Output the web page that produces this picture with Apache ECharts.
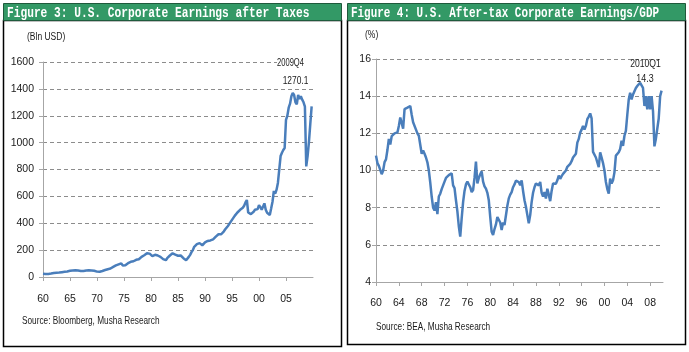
<!DOCTYPE html>
<html><head><meta charset="utf-8">
<script src="https://cdn.jsdelivr.net/npm/echarts@6/dist/echarts.min.js"></script>
<style>html,body{margin:0;padding:0;background:#fff}#c{width:689px;height:352px}</style>
</head><body><div id="c"></div>
<script>
// ---- data (quarterly, starting 1960Q1) ----
const startYear = 1960;
// Figure 3: U.S. corporate earnings after taxes, Bln USD, 1960Q1..2009Q4
const earnings = [
  25, 24, 23, 23,   23, 24, 26, 28,   30, 31, 32, 33,   33, 34, 36, 37,   39, 40, 41, 42,
  46, 48, 49, 50,   51, 50, 48, 46,   44, 44, 45, 47,   48, 49, 50, 50,   49, 48, 46, 43,
  40, 38, 39, 36,   45, 50, 52, 55,   58, 60, 63, 67,   75, 80, 86, 90,   94, 98, 102, 86,
  74, 88, 100, 103, 108, 113, 115, 117, 122, 128, 133, 132, 135, 150, 155, 162, 172, 177, 180, 174,
  170, 155, 160, 165, 164, 160, 157, 150, 138, 133, 128, 125, 140, 150, 160, 168, 176, 172, 166, 162,
  158, 156, 160, 154, 140, 130, 125, 128, 150, 165, 185, 200, 225, 238, 245, 250, 252, 244, 236, 232,
  258, 262, 268, 270, 272, 276, 280, 285, 300, 305, 318, 330, 318, 325, 340, 355, 365, 380, 395, 405,
  425, 440, 455, 465, 480, 492, 500, 505, 515, 530, 555, 573, 480, 472, 468, 462, 485, 500, 510, 505,
  535, 520, 500, 505, 548, 500, 478, 468, 462, 510, 560, 640, 620, 650, 700, 710, 900, 925, 945, 960,
  1170, 1200, 1260, 1290, 1345, 1370, 1355, 1300, 1285, 1355, 1325, 1345, 1320, 1300, 1268, 823, 900, 1005, 1140, 1270.1
];
// Figure 4: U.S. after-tax corporate earnings / GDP, %, 1960Q1..2010Q1
const earningsGdp = [
  10.8, 10.4, 10.25, 10.2,   9.8, 10.0, 10.45, 10.6,   11.1, 11.7, 11.4, 11.85,   11.95, 12.0, 12.05, 12.05,
  12.4, 12.85, 12.55, 12.25,   13.3, 13.35, 13.38, 13.45,   13.47, 13.0, 12.6, 12.5,   12.2, 12.0, 11.87, 11.78,
  10.9, 11.07, 10.9, 10.7,   10.44, 10.0, 9.35, 8.6,   8.0, 7.85, 8.3, 7.65,   8.6, 8.75, 9.0, 9.2,
  9.4, 9.6, 9.7, 9.75,   9.8, 9.85, 9.2, 9.05,   8.4, 7.8, 7.0, 6.44,   7.42, 8.3, 8.9, 9.25,
  9.4, 9.47, 9.1, 8.84,   8.95, 9.6, 10.48, 9.3,   9.6, 9.8, 9.95, 9.4,   9.15, 9.02, 8.8, 8.4,
  7.5, 6.7, 6.53, 6.85,   7.1, 7.5, 7.6, 7.2,   6.8, 7.2, 7.07, 7.16,   8.1, 8.5, 8.7, 8.84,
  9.1, 9.25, 9.45, 9.4,   9.38, 9.2, 9.47, 8.9,   8.4, 8.05, 7.6, 7.16,   7.6, 8.3, 8.8, 9.1,
  9.3, 9.35, 9.2, 9.38,   8.8, 8.6, 8.84, 8.49,   9.02, 8.7, 8.35, 8.9,   9.3, 9.38, 9.29, 9.47,
  9.73, 9.55, 9.7, 9.82,   9.9, 10.0, 10.2, 10.3,   10.36, 10.5, 10.7, 10.75,   10.9, 11.5, 11.7, 12.04,
  12.2, 12.4, 12.2, 12.4,   12.76, 12.9, 13.07, 12.8,   11.0, 10.9, 10.7, 10.75,   10.18, 10.98, 10.7, 10.4,
  10.0, 9.38, 9.0, 8.76,   9.56, 9.3, 9.47, 9.9,   10.8, 10.9, 10.98, 11.16,   11.6, 11.33, 11.87, 12.13,
  13.0, 13.82, 14.18, 13.82,   14.09, 14.27, 14.44, 14.55,   14.62, 14.71, 14.75, 14.44,   13.47, 14.0, 13.29, 14.0,
  13.29, 14.0, 13.2, 11.3,   11.7, 11.78, 12.8, 14.0,   14.3
];
const xTicks1 = [1960, 1965, 1970, 1975, 1980, 1985, 1990, 1995, 2000, 2005];
const xTicks2 = [1960, 1964, 1968, 1972, 1976, 1980, 1984, 1988, 1992, 1996, 2000, 2004, 2008];
const titles = ['Figure 3: U.S. Corporate Earnings after Taxes', 'Figure 4: U.S. After-tax Corporate Earnings/GDP'];
const units = ['(Bln USD)', '(%)'];
const sources = ['Source: Bloomberg, Musha Research', 'Source: BEA, Musha Research'];
const notes1 = ['2009Q4', '1270.1'];
const notes2 = ['2010Q1', '14.3'];

const toPairs = arr => arr.map((v, i) => [startYear + i / 4, v]);
const SANS = '"Liberation Sans", Arial, sans-serif';
const AX = '#a6a6a6';
const GRIDC = '#8c8c8c';
const fmtYear = v => String(Math.round(v)).slice(2);

function xAxisCfg(gi, min, max, ticks, margin) {
  return {
    type: 'value', gridIndex: gi, min: min, max: max,
    axisLine: { show: true, onZero: false, lineStyle: { color: AX, width: 1 } },
    axisTick: { show: true, length: 4, customValues: ticks, lineStyle: { color: AX } },
    axisLabel: { customValues: ticks, formatter: fmtYear, fontSize: 10.5, fontFamily: SANS, color: '#1a1a1a', margin: margin },
    splitLine: { show: false }
  };
}
function yAxisCfg(gi, min, max, interval, margin) {
  return {
    type: 'value', gridIndex: gi, min: min, max: max, interval: interval,
    axisLine: { show: true, lineStyle: { color: AX, width: 1 } },
    axisTick: { show: true, length: 4, lineStyle: { color: AX } },
    axisLabel: { fontSize: 10.5, fontFamily: SANS, color: '#1a1a1a', margin: margin, formatter: v => String(v) },
    splitLine: { show: true, lineStyle: { color: GRIDC, type: [4, 3], width: 1 } }
  };
}
function txt(x, y, text, font, fill, align, sx) {
  return { type: 'text', x: x, y: y, scaleX: sx || 1, z: 10,
    style: { text: text, font: font, fill: fill, textAlign: align || 'left', textVerticalAlign: 'middle', verticalAlign: 'middle' } };
}

const chart = echarts.init(document.getElementById('c'), null, { renderer: 'canvas' });
chart.setOption({
  animation: false,
  backgroundColor: '#ffffff',
  grid: [
    { left: 43, top: 62, width: 270, height: 215, outerBoundsMode: 'none', containLabel: false },
    { left: 376, top: 59, width: 287, height: 223, outerBoundsMode: 'none', containLabel: false }
  ],
  xAxis: [ xAxisCfg(0, 1960, 2010, xTicks1, 17), xAxisCfg(1, 1960, 2010.25, xTicks2, 16) ],
  yAxis: [ yAxisCfg(0, 0, 1600, 200, 9), yAxisCfg(1, 4, 16, 2, 5) ],
  series: [
    { type: 'line', xAxisIndex: 0, yAxisIndex: 0, data: toPairs(earnings), showSymbol: false, symbol: 'none',
      lineStyle: { color: '#4a7ebb', width: 2.5 }, silent: true },
    { type: 'line', xAxisIndex: 1, yAxisIndex: 1, data: toPairs(earningsGdp), showSymbol: false, symbol: 'none',
      lineStyle: { color: '#4a7ebb', width: 2.5 }, silent: true }
  ],
  graphic: [
    { type: 'rect', shape: { x: 3.5, y: 20.5, width: 338, height: 326 }, style: { fill: 'none', stroke: '#000', lineWidth: 1.5 } },
    { type: 'rect', shape: { x: 347.5, y: 20.5, width: 338, height: 324 }, style: { fill: 'none', stroke: '#000', lineWidth: 1.5 } },
    { type: 'rect', shape: { x: 3.5, y: 3.5, width: 338, height: 17 }, style: { fill: '#339966', stroke: '#1f5a3c', lineWidth: 1 } },
    { type: 'rect', shape: { x: 347.5, y: 3.5, width: 338, height: 17 }, style: { fill: '#339966', stroke: '#1f5a3c', lineWidth: 1 } },
    { type: 'rect', z: 5, shape: { x: 277, y: 57, width: 37, height: 31 }, style: { fill: '#ffffff', stroke: 'none' } },
    txt(7, 13, titles[0], 'bold 14px "Liberation Mono", "DejaVu Sans Mono", monospace', '#ffffff', 'left', 0.8),
    txt(351, 13, titles[1], 'bold 14px "Liberation Mono", "DejaVu Sans Mono", monospace', '#ffffff', 'left', 0.78),
    txt(27, 37, units[0], '10px ' + SANS, '#1a1a1a', 'left', 0.85),
    txt(365, 35, units[1], '10px ' + SANS, '#1a1a1a', 'left', 0.85),
    txt(22, 321, sources[0], '11px ' + SANS, '#1a1a1a', 'left', 0.75),
    txt(376, 327, sources[1], '11px ' + SANS, '#1a1a1a', 'left', 0.75),
    txt(290.5, 63, notes1[0], '10.5px ' + SANS, '#1a1a1a', 'center', 0.72),
    txt(295.5, 81, notes1[1], '10.5px ' + SANS, '#1a1a1a', 'center', 0.8),
    txt(645.5, 64, notes2[0], '10.5px ' + SANS, '#1a1a1a', 'center', 0.82),
    txt(645, 79, notes2[1], '10.5px ' + SANS, '#1a1a1a', 'center', 0.85)
  ]
});
</script>
</body></html>
